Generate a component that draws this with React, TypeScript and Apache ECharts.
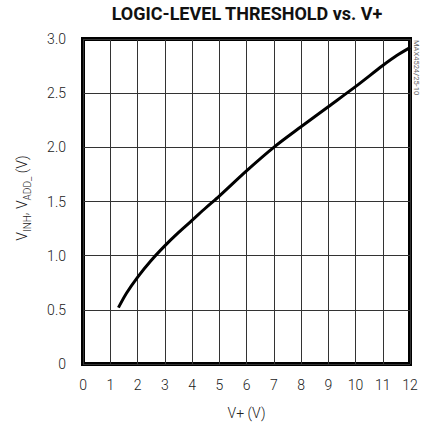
import React, { useEffect, useRef } from "react";
import * as echarts from "echarts";

const vPlus = [1.3, 1.6, 2, 2.5, 3, 3.5, 4, 4.5, 5, 6, 7, 8, 9, 10, 11, 11.5, 12];
const threshold = [0.52, 0.655, 0.8, 0.955, 1.09, 1.212, 1.325, 1.44, 1.55, 1.783, 2.0, 2.19, 2.375, 2.56, 2.755, 2.845, 2.92];
const xTicks = [0, 1, 2, 3, 4, 5, 6, 7, 8, 9, 10, 11, 12];
const yTicks = ["0", "0.5", "1.0", "1.5", "2.0", "2.5", "3.0"];

const FONT = 'Roboto, "Liberation Sans", sans-serif';

export default function App() {
  const ref = useRef<HTMLDivElement>(null);
  useEffect(() => {
    document.body.style.margin = "0";
    document.body.style.overflow = "hidden";
    if (!ref.current) return;
    const chart = echarts.init(ref.current, null, { renderer: "svg" });
    const data = vPlus.map((x, i) => [x, threshold[i]]);
    chart.setOption({
      animation: false,
      backgroundColor: "#fff",
      grid: {
        left: 83,
        right: 12,
        top: 39,
        bottom: 62,
        show: true,
        borderColor: "#000",
        borderWidth: 4,
        backgroundColor: "transparent",
      },
      xAxis: {
        type: "value",
        min: 0,
        max: 12,
        interval: 1,
        name: "V+ (V)",
        nameLocation: "middle",
        nameGap: 42,
        nameTextStyle: { fontFamily: FONT, fontWeight: 300, fontSize: 14, color: "#222" },
        axisLine: { show: false },
        axisTick: { show: false },
        axisLabel: {
          margin: 14,
          fontFamily: FONT,
          fontWeight: 300,
          fontSize: 14,
          color: "#222",
          formatter: (v: number) => String(xTicks[Math.round(v)] ?? v),
        },
        splitLine: { show: true, lineStyle: { color: "#333", width: 1 } },
      },
      yAxis: {
        type: "value",
        min: 0,
        max: 3,
        interval: 0.5,
        axisLine: { show: false },
        axisTick: { show: false },
        axisLabel: {
          margin: 17,
          fontFamily: FONT,
          fontWeight: 300,
          fontSize: 14,
          color: "#222",
          formatter: (v: number) => yTicks[Math.round(v * 2)] ?? String(v),
        },
        splitLine: { show: true, lineStyle: { color: "#333", width: 1 } },
      },
      graphic: [
        {
          type: "text",
          x: 247,
          y: 13,
          style: {
            text: "LOGIC-LEVEL THRESHOLD vs. V+",
            align: "center",
            verticalAlign: "middle",
            fontFamily: FONT,
            fontWeight: "bold",
            fontSize: 18,
            fill: "#111",
          },
        },
        {
          type: "text",
          x: 22,
          y: 198,
          rotation: Math.PI / 2,
          style: {
            text: "{n|V}{s|INH}{n|, V}{s|ADD_}{n| (V)}",
            align: "center",
            verticalAlign: "middle",
            fill: "#222",
            rich: {
              n: { fontFamily: FONT, fontWeight: 300, fontSize: 14, lineHeight: 20, verticalAlign: "middle", fill: "#222" },
              s: { fontFamily: FONT, fontWeight: 300, fontSize: 10, lineHeight: 10, verticalAlign: "bottom", fill: "#222" },
            },
          },
        },
        {
          type: "text",
          x: 416,
          y: 40,
          rotation: -Math.PI / 2,
          style: {
            text: "MAX4524/25-10",
            align: "left",
            verticalAlign: "middle",
            fontFamily: FONT,
            fontSize: 7.5,
            fill: "#666",
          },
        },
      ],
      series: [
        {
          type: "line",
          data,
          showSymbol: false,
          smooth: 0.3,
          lineStyle: { color: "#000", width: 3 },
        },
      ],
    });
    return () => chart.dispose();
  }, []);
  return <div ref={ref} style={{ position: "absolute", left: 0, top: 0, width: 422, height: 426 }} />;
}
